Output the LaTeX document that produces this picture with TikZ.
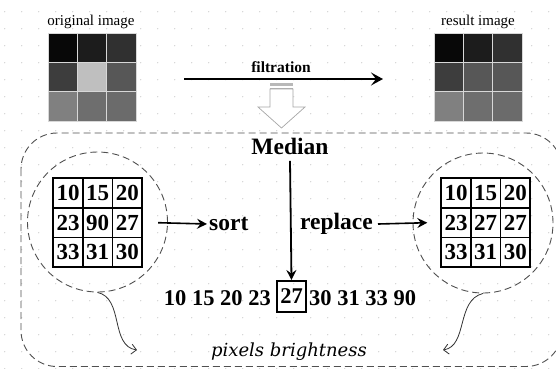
\documentclass[tikz,border=0pt]{standalone}
\usepackage{fontspec}
\setmainfont{Liberation Serif}
\newfontfamily\itfont{DejaVu Serif}
\usetikzlibrary{arrows.meta}
\definecolor{dotc}{HTML}{C8C8C8}
\definecolor{dashc}{HTML}{505050}
\definecolor{sepc}{HTML}{D8D8D8}
\tikzset{
  px/.style={x=1pt,y=-1pt},
  bigbold/.style={font=\fontsize{23.5}{23.5}\selectfont\bfseries},
  seqbold/.style={font=\fontsize{22.5}{22.5}\selectfont\bfseries},
  smalltxt/.style={font=\fontsize{15}{15}\selectfont},
  cell/.style={draw=black,line width=1.7pt,fill=white,minimum size=29.7pt,inner sep=0pt,font=\fontsize{23}{23}\selectfont\bfseries},
  tile/.style={draw=sepc,line width=0.8pt,minimum size=29.3pt,inner sep=0pt},
  dashline/.style={draw=dashc,line width=0.9pt,dash pattern=on 7pt off 4pt},
  tip/.style={-{Stealth[length=10pt,width=10pt,inset=3.5pt]}},
  thintip/.style={-{Straight Barb[length=5pt,width=10pt]}},
}
\begin{document}
\begin{tikzpicture}[px]
\useasboundingbox (0,0) rectangle (556,368);
% faint dotted background grid
\foreach \i in {0,...,32}
  \foreach \j in {0,...,21}
    \fill[dotc] (4.7+17*\i,11.7+17*\j) circle (0.6);

% the two 3x3 grey images
\foreach \r/\c/\g in {1/1/3,1/2/11,1/3/19,2/1/24,2/2/75,2/3/34,3/1/50,3/2/43,3/3/42}
  \node[tile,fill=black!\the\numexpr100-\g\relax!white] (O-\r-\c) at (62.7+29.3*\c-29.3,47.7+29.3*\r-29.3) {};
\foreach \r/\c/\g in {1/1/3,1/2/11,1/3/19,2/1/24,2/2/34,2/3/34,3/1/50,3/2/43,3/3/42}
  \node[tile,fill=black!\the\numexpr100-\g\relax!white] (S-\r-\c) at (448.7+29.3*\c-29.3,47.7+29.3*\r-29.3) {};
\node[smalltxt] (orig) at (91,22) {original image};
\node[smalltxt] (res) at (478,22) {result image};

% filtration arrow
\coordinate (fa) at (184,79);
\coordinate (fb) at (383,79);
\draw[line width=2.6pt,-{Stealth[length=12pt,width=13pt,inset=5pt]}] (fa) -- (fb);
\node[font=\fontsize{15.5}{15.5}\selectfont\bfseries] (filt) at (281,67) {filtration};

% hollow down arrow
\fill[black!28] (270,83) rectangle (293,86);
\draw[black!30,line width=0.6pt] (270,87.8) -- (293,87.8);
\draw[black!35,line width=0.7pt,fill=white]
  (270,89) -- (293,89) -- (293,107) -- (305,107) -- (281.5,128) -- (258,107) -- (270,107) -- cycle;

% dashed frame
\draw[dashline,rounded corners=36pt] (21,133) rectangle (562,366.5);

% circles
\node[dashline,circle,minimum size=140pt,inner sep=0pt] (LC) at (97.5,222) {};
\node[dashline,circle,minimum size=140pt,inner sep=0pt] (RC) at (483,223) {};

% number grids
\foreach \r/\c/\v in {1/1/10,1/2/15,1/3/20,2/1/23,2/2/90,2/3/27,3/1/33,3/2/31,3/3/30}
  \node[cell] (L-\r-\c) at (68+29.7*\c-29.7,193+29.7*\r-29.7) {\v};
\foreach \r/\c/\v in {1/1/10,1/2/15,1/3/20,2/1/23,2/2/27,2/3/27,3/1/33,3/2/31,3/3/30}
  \node[cell] (R-\r-\c) at (456+29.7*\c-29.7,193+29.7*\r-29.7) {\v};

% labels
\node[bigbold] (med) at (290,146) {Median};
\node[bigbold,anchor=west,inner sep=0pt] (sort) at (209,224) {sort};
\node[bigbold,anchor=east,inner sep=0pt] (repl) at (373,224) {replace};

% sorted sequence
\node[seqbold,draw,line width=2pt,minimum width=29pt,minimum height=31pt,inner sep=0pt] (med27) at (291.5,296.5) {27};
\node[seqbold,anchor=east,inner sep=0pt] (seqL) at (271,298) {10 15 20 23};
\node[seqbold,anchor=west,inner sep=0pt] (seqR) at (309,298) {30 31 33 90};

\node[font=\fontsize{18}{18}\selectfont\itfont\itshape] (pix) at (289,352) {pixels brightness};

% connectors
\draw[line width=1.6pt,tip] ([xshift=15pt]L-2-3.east) -- ([xshift=-2pt]sort.west);
\draw[line width=1.6pt,tip] (repl.east) ++(5pt,0) -- ([xshift=-13pt]R-2-1.west);
\draw[line width=1.8pt,tip] ([yshift=-3pt]med.south) -- (med27.north);

\coordinate (la) at (137,350);
\coordinate (ra) at (443,350);
\draw[black!80,line width=0.8pt,thintip] (LC.south) .. controls (124,298) and (110,346) .. (la);
\draw[black!80,line width=0.8pt,thintip] (RC.south) .. controls (456,300) and (468,346) .. (ra);
\end{tikzpicture}
\end{document}
